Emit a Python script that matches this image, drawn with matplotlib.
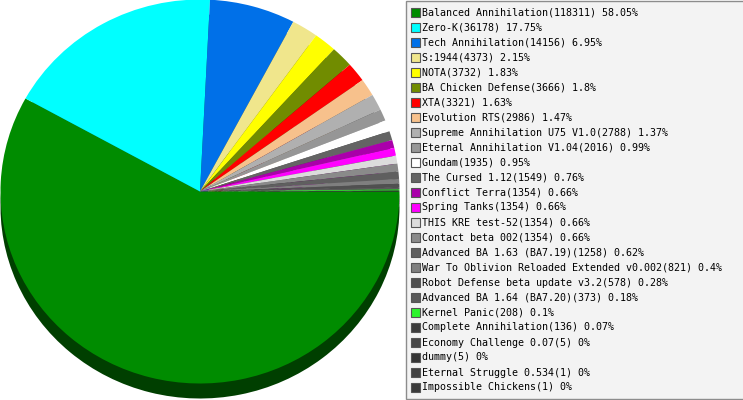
import matplotlib.pyplot as plt
from matplotlib.colors import to_rgb
from matplotlib.patches import Rectangle

# mods and their counts, in legend order
names = [
    "Balanced Annihilation", "Zero-K", "Tech Annihilation", "S:1944", "NOTA",
    "BA Chicken Defense", "XTA", "Evolution RTS", "Supreme Annihilation U75 V1.0",
    "Eternal Annihilation V1.04", "Gundam", "The Cursed 1.12", "Conflict Terra",
    "Spring Tanks", "THIS KRE test-52", "Contact beta 002",
    "Advanced BA 1.63 (BA7.19)", "War To Oblivion Reloaded Extended v0.002",
    "Robot Defense beta update v3.2", "Advanced BA 1.64 (BA7.20)", "Kernel Panic",
    "Complete Annihilation", "Economy Challenge 0.07", "dummy",
    "Eternal Struggle 0.534", "Impossible Chickens",
]
counts = [118311, 36178, 14156, 4373, 3732, 3666, 3321, 2986, 2788, 2016, 1935,
          1549, 1354, 1354, 1354, 1354, 1258, 821, 578, 373, 208, 136, 5, 5, 1, 1]
colors = [
    "#008c00", "#00ffff", "#0070e8", "#f0e68c", "#ffff00", "#718c00", "#ff0000",
    "#f7c18c", "#b0b0b0", "#969696", "#ffffff", "#646464", "#aa00aa", "#ff00ff",
    "#dcdcdc", "#8a8a8a", "#5f5f5f", "#7f7f7f", "#505050", "#5a5a5a", "#2cf52c",
    "#3c3c3c", "#474747", "#353535", "#414141", "#3a3a3a",
]

total = sum(counts)
percents = [round(c / total * 100, 2) for c in counts]
labels = [f"{n}({c}) {p:g}%" for n, c, p in zip(names, counts, percents)]

W, H = 743, 400
fig = plt.figure(figsize=(W / 100, H / 100), dpi=100)

# --- pie (elliptical, with a dark extruded rim below) ---
pie_w = 400
cx, cy, rx, ry, depth = 200, 191.5, 199.5, 192, 15
ax = fig.add_axes([0, 0, pie_w / W, 1])

shadow = [tuple(v * 0.45 for v in to_rgb(c)) for c in colors]
ax.pie(counts, colors=shadow, startangle=0, counterclock=False,
       center=(0, -depth / ry), wedgeprops=dict(linewidth=0))
ax.pie(counts, colors=colors, startangle=0, counterclock=False,
       center=(0, 0), wedgeprops=dict(linewidth=0))
ax.set_aspect("auto")
ax.set_xlim(-cx / rx, (pie_w - cx) / rx)
ax.set_ylim(-(H - cy) / ry, cy / ry)
ax.axis("off")

# --- legend box ---
lg = fig.add_axes([0, 0, 1, 1])
lg.set_xlim(0, W)
lg.set_ylim(H, 0)
lg.axis("off")
lg.patch.set_visible(False)

lg.add_patch(Rectangle((405.5, 0.5), 345, 398, facecolor="#f3f3f3",
                       edgecolor="#8c8c8c", linewidth=1))
for i, (lab, col) in enumerate(zip(labels, colors)):
    yc = 12.5 + 15 * i
    lg.add_patch(Rectangle((411, yc - 4.5), 8.5, 8.5, facecolor=col,
                           edgecolor="#555555", linewidth=0.8))
    lg.text(422, yc, lab, va="center", ha="left", fontsize=7.2,
            family="DejaVu Sans Mono", color="#000000")

fig.savefig("out.png", dpi=100)
